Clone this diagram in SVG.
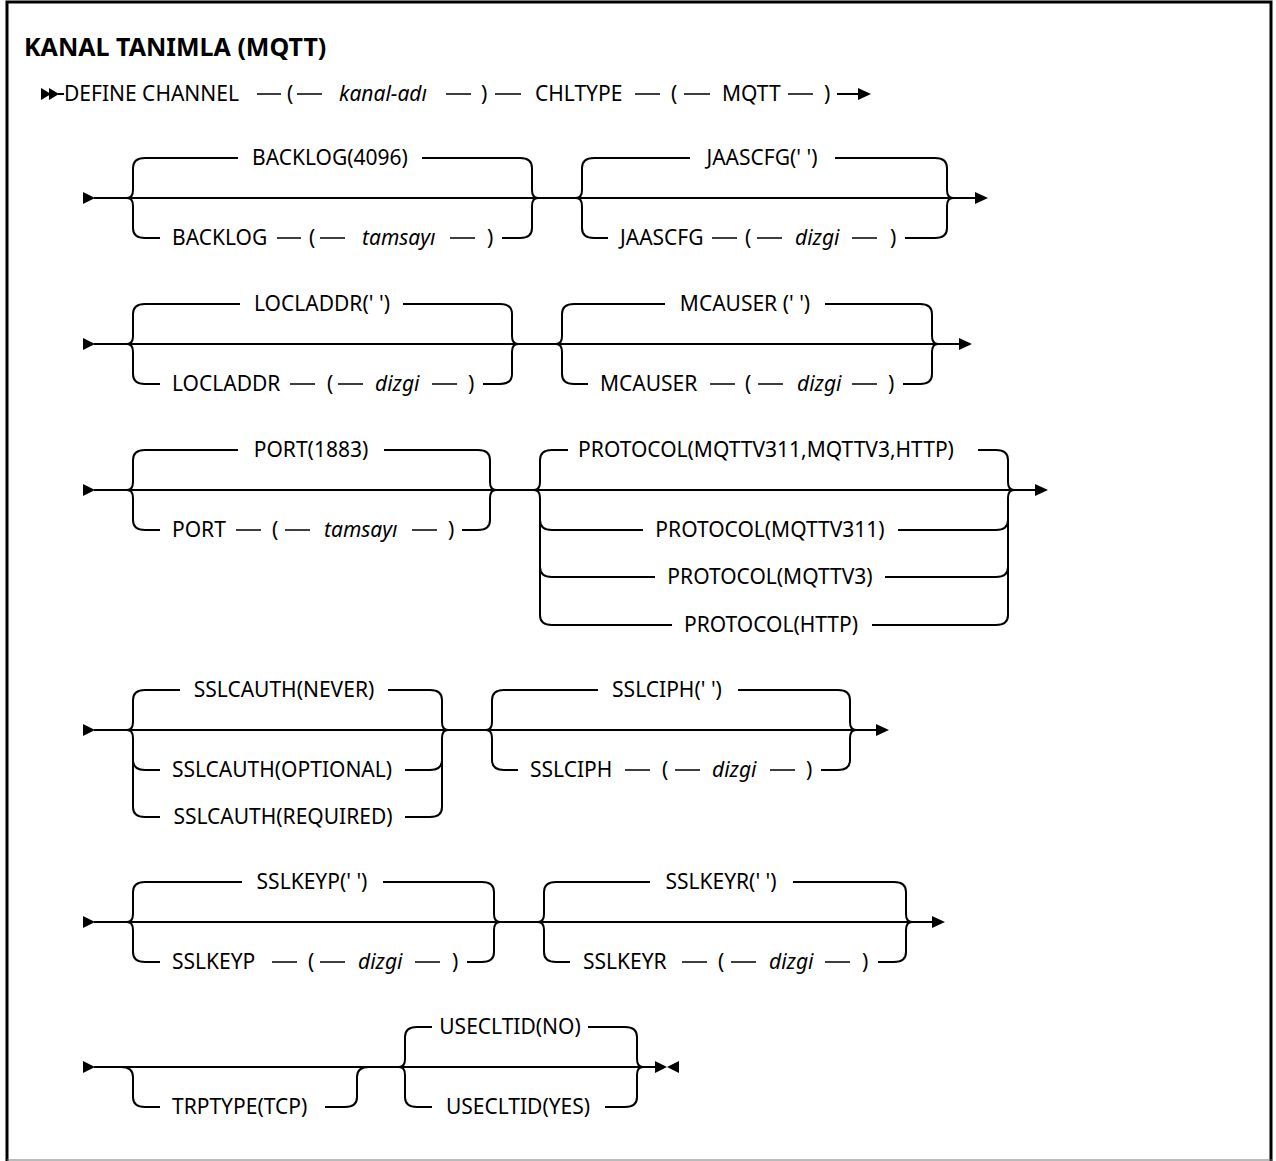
<svg xmlns="http://www.w3.org/2000/svg" width="1276" height="1161" viewBox="0 0 1276 1161">
<defs>
<style>
.t{font-family:"Noto Sans","Liberation Sans",sans-serif;font-size:21px;fill:#000}
.m{text-anchor:middle}
.i{font-style:italic}
.h{font-family:"Noto Sans","Liberation Sans",sans-serif;font-size:25px;font-weight:bold;fill:#000}
.l{stroke:#000;stroke-width:2;fill:none}
.d{stroke:#000;stroke-width:1.5;fill:none}
.a{fill:#000}
</style>
</defs>
<rect width="1276" height="1161" fill="#fff"/>
<path d="M7,1161 V2 H1271 V1161" fill="none" stroke="#000" stroke-width="3"/>
<line x1="7" y1="1160" x2="1272" y2="1160" stroke="#777" stroke-width="1"/>
<text class="h" x="24" y="56">KANAL TANIMLA (MQTT)</text>

<g id="connectors">
<!-- row 1 -->
<polygon class="a" points="41,88 51,94 41,100"/>
<polygon class="a" points="49,88 59,94 49,100"/>
<line class="l" x1="58" y1="94" x2="64" y2="94"/>
<path class="d" d="M257,94H281M297,94H322M446,94H471M495,94H521M635,94H660M684,94H710M788,94H813"/>
<line class="l" x1="837" y1="94" x2="860" y2="94"/>
<polygon class="a" points="858,88 871,94 858,100"/>

<!-- row 2 -->
<polygon class="a" points="83,192 95,198 83,204"/>
<line class="l" x1="94" y1="198" x2="977" y2="198"/>
<polygon class="a" points="975,192 988,198 975,204"/>
<path class="l" d="M145,158 Q133,158 133,168 V190 Q133,198 127,198 Q133,198 133,206 V228 Q133,238 145,238"/>
<path class="l" d="M520,158 Q532,158 532,168 V190 Q532,198 538,198 Q532,198 532,206 V228 Q532,238 520,238"/>
<path class="l" d="M145,158H238M422,158H520M145,238H160M502,238H520"/>
<path class="d" d="M277,238H301M320,238H345M450,238H475"/>
<path class="l" d="M594,158 Q582,158 582,168 V190 Q582,198 576,198 Q582,198 582,206 V228 Q582,238 594,238"/>
<path class="l" d="M935,158 Q947,158 947,168 V190 Q947,198 953,198 Q947,198 947,206 V228 Q947,238 935,238"/>
<path class="l" d="M594,158H690M835,158H935M594,238H608M905,238H935"/>
<path class="d" d="M712,238H737M757,238H782M852,238H877"/>

<!-- row 3 -->
<polygon class="a" points="83,338 95,344 83,350"/>
<line class="l" x1="94" y1="344" x2="961" y2="344"/>
<polygon class="a" points="959,338 972,344 959,350"/>
<path class="l" d="M145,304 Q133,304 133,314 V336 Q133,344 127,344 Q133,344 133,352 V374 Q133,384 145,384"/>
<path class="l" d="M500,304 Q512,304 512,314 V336 Q512,344 518,344 Q512,344 512,352 V374 Q512,384 500,384"/>
<path class="l" d="M145,304H240M403,304H500M145,384H160M483,384H500"/>
<path class="d" d="M290,384H315M338,384H363M432,384H457"/>
<path class="l" d="M574,304 Q562,304 562,314 V336 Q562,344 556,344 Q562,344 562,352 V374 Q562,384 574,384"/>
<path class="l" d="M920,304 Q932,304 932,314 V336 Q932,344 938,344 Q932,344 932,352 V374 Q932,384 920,384"/>
<path class="l" d="M574,304H665M825,304H920M574,384H588M903,384H920"/>
<path class="d" d="M710,384H735M758,384H783M852,384H877"/>

<!-- row 4 -->
<polygon class="a" points="83,484 95,490 83,496"/>
<line class="l" x1="94" y1="490" x2="1037" y2="490"/>
<polygon class="a" points="1035,484 1048,490 1035,496"/>
<path class="l" d="M145,450 Q133,450 133,460 V482 Q133,490 127,490 Q133,490 133,498 V520 Q133,530 145,530"/>
<path class="l" d="M478,450 Q490,450 490,460 V482 Q490,490 496,490 Q490,490 490,498 V520 Q490,530 478,530"/>
<path class="l" d="M145,450H238M384,450H478M145,530H160M462,530H478"/>
<path class="d" d="M236,530H261M285,530H310M412,530H437"/>
<path class="l" d="M552,450 Q540,450 540,460 V482 Q540,490 534,490 Q540,490 540,498 V615 Q540,625 552,625 M540,520 Q540,530 552,530 M540,567 Q540,577 552,577"/>
<path class="l" d="M996,450 Q1008,450 1008,460 V482 Q1008,490 1014,490 Q1008,490 1008,498 V615 Q1008,625 996,625 M1008,520 Q1008,530 996,530 M1008,567 Q1008,577 996,577"/>
<path class="l" d="M552,450H568M978,450H996M552,530H643M898,530H996M552,577H655M885,577H996M552,625H672M872,625H996"/>

<!-- row 5 -->
<polygon class="a" points="83,724 95,730 83,736"/>
<line class="l" x1="94" y1="730" x2="878" y2="730"/>
<polygon class="a" points="876,724 889,730 876,736"/>
<path class="l" d="M145,690 Q133,690 133,700 V722 Q133,730 127,730 Q133,730 133,738 V807 Q133,817 145,817 M133,760 Q133,770 145,770"/>
<path class="l" d="M430,690 Q442,690 442,700 V722 Q442,730 448,730 Q442,730 442,738 V807 Q442,817 430,817 M442,760 Q442,770 430,770"/>
<path class="l" d="M145,690H180M388,690H430M145,770H160M405,770H430M145,817H160M405,817H430"/>
<path class="l" d="M504,690 Q492,690 492,700 V722 Q492,730 486,730 Q492,730 492,738 V760 Q492,770 504,770"/>
<path class="l" d="M838,690 Q850,690 850,700 V722 Q850,730 856,730 Q850,730 850,738 V760 Q850,770 838,770"/>
<path class="l" d="M504,690H598M738,690H838M504,770H518M821,770H838"/>
<path class="d" d="M625,770H650M675,770H700M770,770H795"/>

<!-- row 6 -->
<polygon class="a" points="83,916 95,922 83,928"/>
<line class="l" x1="94" y1="922" x2="934" y2="922"/>
<polygon class="a" points="932,916 945,922 932,928"/>
<path class="l" d="M145,882 Q133,882 133,892 V914 Q133,922 127,922 Q133,922 133,930 V952 Q133,962 145,962"/>
<path class="l" d="M482,882 Q494,882 494,892 V914 Q494,922 500,922 Q494,922 494,930 V952 Q494,962 482,962"/>
<path class="l" d="M145,882H242M383,882H482M145,962H160M467,962H482"/>
<path class="d" d="M272,962H297M320,962H345M415,962H440"/>
<path class="l" d="M556,882 Q544,882 544,892 V914 Q544,922 538,922 Q544,922 544,930 V952 Q544,962 556,962"/>
<path class="l" d="M894,882 Q906,882 906,892 V914 Q906,922 912,922 Q906,922 906,930 V952 Q906,962 894,962"/>
<path class="l" d="M556,882H650M793,882H894M556,962H570M878,962H894"/>
<path class="d" d="M682,962H707M731,962H756M825,962H850"/>

<!-- row 7 -->
<polygon class="a" points="83,1061 95,1067 83,1073"/>
<line class="l" x1="94" y1="1067" x2="657" y2="1067"/>
<polygon class="a" points="655,1061 667,1067 655,1073"/>
<polygon class="a" points="679,1061 667,1067 679,1073"/>
<path class="l" d="M121,1067 Q133,1067 133,1077 V1097 Q133,1107 145,1107"/>
<path class="l" d="M345,1107 Q357,1107 357,1097 V1077 Q357,1067 369,1067"/>
<path class="l" d="M145,1107H160M325,1107H345"/>
<path class="l" d="M417,1027 Q405,1027 405,1037 V1059 Q405,1067 399,1067 Q405,1067 405,1075 V1097 Q405,1107 417,1107"/>
<path class="l" d="M625,1027 Q637,1027 637,1037 V1059 Q637,1067 643,1067 Q637,1067 637,1075 V1097 Q637,1107 625,1107"/>
<path class="l" d="M417,1027H432M588,1027H625M417,1107H432M605,1107H625"/>
</g>

<g id="n-define">
<text class="t" x="64" y="101">DEFINE CHANNEL</text>
<text class="t" x="287" y="101">(</text>
<text class="t i" x="339" y="101">kanal-adı</text>
<text class="t" x="481" y="101">)</text>
<text class="t" x="535" y="101">CHLTYPE</text>
<text class="t" x="671" y="101">(</text>
<text class="t" x="722" y="101">MQTT</text>
<text class="t" x="824" y="101">)</text>
</g>

<g id="n-backlog">
<text class="t m" x="330" y="165">BACKLOG(4096)</text>
<text class="t" x="172" y="245">BACKLOG</text>
<text class="t" x="309" y="245">(</text>
<text class="t i" x="362" y="245">tamsayı</text>
<text class="t" x="487" y="245">)</text>
</g>
<g id="n-jaascfg">
<text class="t m" x="762" y="165">JAASCFG(' ')</text>
<text class="t" x="620" y="245">JAASCFG</text>
<text class="t" x="745" y="245">(</text>
<text class="t i" x="795" y="245">dizgi</text>
<text class="t" x="890" y="245">)</text>
</g>

<g id="n-locladdr">
<text class="t m" x="322" y="311">LOCLADDR(' ')</text>
<text class="t" x="172" y="391">LOCLADDR</text>
<text class="t" x="327" y="391">(</text>
<text class="t i" x="375" y="391">dizgi</text>
<text class="t" x="468" y="391">)</text>
</g>
<g id="n-mcauser">
<text class="t m" x="745" y="311">MCAUSER (' ')</text>
<text class="t" x="600" y="391">MCAUSER</text>
<text class="t" x="745" y="391">(</text>
<text class="t i" x="797" y="391">dizgi</text>
<text class="t" x="888" y="391">)</text>
</g>

<g id="n-port">
<text class="t m" x="311" y="457">PORT(1883)</text>
<text class="t" x="172" y="537">PORT</text>
<text class="t" x="272" y="537">(</text>
<text class="t i" x="324" y="537">tamsayı</text>
<text class="t" x="448" y="537">)</text>
</g>
<g id="n-protocol">
<text class="t m" x="766" y="457">PROTOCOL(MQTTV311,MQTTV3,HTTP)</text>
<text class="t m" x="770" y="537">PROTOCOL(MQTTV311)</text>
<text class="t m" x="770" y="584">PROTOCOL(MQTTV3)</text>
<text class="t m" x="771" y="632">PROTOCOL(HTTP)</text>
</g>

<g id="n-sslcauth">
<text class="t m" x="284" y="697">SSLCAUTH(NEVER)</text>
<text class="t m" x="282" y="777">SSLCAUTH(OPTIONAL)</text>
<text class="t m" x="283" y="824">SSLCAUTH(REQUIRED)</text>
</g>
<g id="n-sslciph">
<text class="t m" x="667" y="697">SSLCIPH(' ')</text>
<text class="t" x="530" y="777">SSLCIPH</text>
<text class="t" x="662" y="777">(</text>
<text class="t i" x="712" y="777">dizgi</text>
<text class="t" x="806" y="777">)</text>
</g>

<g id="n-sslkeyp">
<text class="t m" x="312" y="889">SSLKEYP(' ')</text>
<text class="t" x="172" y="969">SSLKEYP</text>
<text class="t" x="308" y="969">(</text>
<text class="t i" x="358" y="969">dizgi</text>
<text class="t" x="452" y="969">)</text>
</g>
<g id="n-sslkeyr">
<text class="t m" x="721" y="889">SSLKEYR(' ')</text>
<text class="t" x="583" y="969">SSLKEYR</text>
<text class="t" x="718" y="969">(</text>
<text class="t i" x="769" y="969">dizgi</text>
<text class="t" x="862" y="969">)</text>
</g>

<g id="n-trptype">
<text class="t" x="172" y="1114">TRPTYPE(TCP)</text>
</g>
<g id="n-useclitid">
<text class="t m" x="510" y="1034">USECLTID(NO)</text>
<text class="t m" x="518" y="1114">USECLTID(YES)</text>
</g>
</svg>
